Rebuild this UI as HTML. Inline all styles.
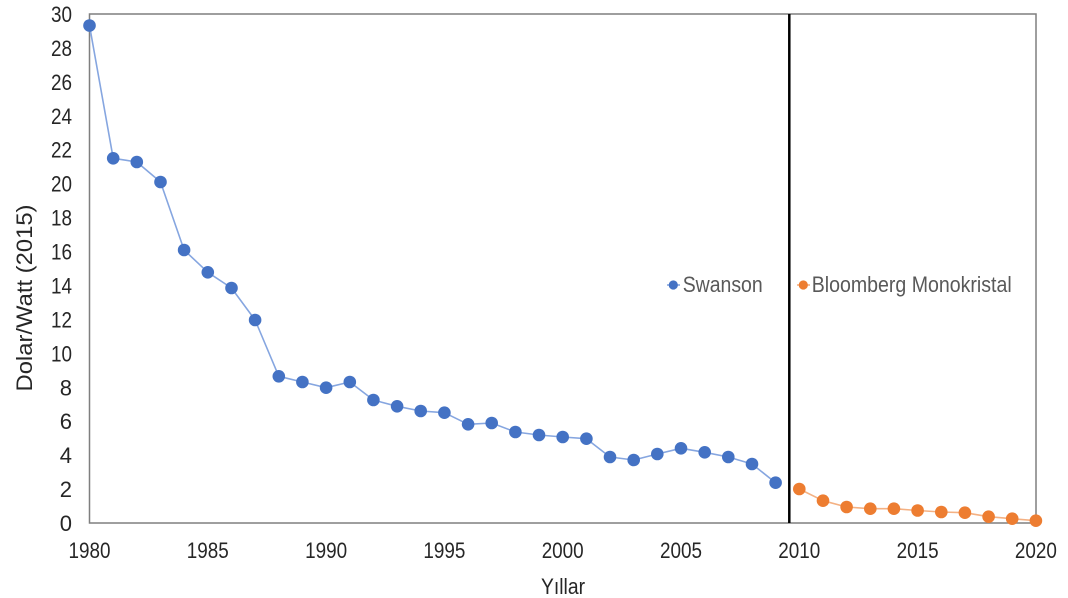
<!DOCTYPE html>
<html>
<head>
<meta charset="utf-8">
<style>
  html, body { margin: 0; padding: 0; background: #ffffff; }
  svg { display: block; }
  text { font-family: "Liberation Sans", Arial, sans-serif; }
</style>
</head>
<body>
<svg width="1068" height="598" viewBox="0 0 1068 598" xmlns="http://www.w3.org/2000/svg">
  <rect x="0" y="0" width="1068" height="598" fill="#ffffff"/>

  <!-- plot frame -->
  <rect x="89.5" y="14" width="946.5" height="509" fill="none" stroke="#7f7f7f" stroke-width="1.5"/>

  <!-- separator line -->
  <line x1="789.3" y1="14" x2="789.3" y2="523" stroke="#000000" stroke-width="2.5"/>

  <!-- Y tick labels -->
  <g font-size="22" fill="#262626" text-anchor="end">
    <text x="72" y="22" textLength="21" lengthAdjust="spacingAndGlyphs">30</text>
    <text x="72" y="55.9" textLength="21" lengthAdjust="spacingAndGlyphs">28</text>
    <text x="72" y="89.9" textLength="21" lengthAdjust="spacingAndGlyphs">26</text>
    <text x="72" y="123.8" textLength="21" lengthAdjust="spacingAndGlyphs">24</text>
    <text x="72" y="157.7" textLength="21" lengthAdjust="spacingAndGlyphs">22</text>
    <text x="72" y="191.7" textLength="21" lengthAdjust="spacingAndGlyphs">20</text>
    <text x="72" y="225.6" textLength="21" lengthAdjust="spacingAndGlyphs">18</text>
    <text x="72" y="259.5" textLength="21" lengthAdjust="spacingAndGlyphs">16</text>
    <text x="72" y="293.5" textLength="21" lengthAdjust="spacingAndGlyphs">14</text>
    <text x="72" y="327.4" textLength="21" lengthAdjust="spacingAndGlyphs">12</text>
    <text x="72" y="361.3" textLength="21" lengthAdjust="spacingAndGlyphs">10</text>
    <text x="72" y="395.3">8</text>
    <text x="72" y="429.2">6</text>
    <text x="72" y="463.1">4</text>
    <text x="72" y="497.1">2</text>
    <text x="72" y="531">0</text>
  </g>

  <!-- X tick labels -->
  <g font-size="22" fill="#262626" text-anchor="middle">
    <text x="89.5" y="558" textLength="42" lengthAdjust="spacingAndGlyphs">1980</text>
    <text x="207.8" y="558" textLength="42" lengthAdjust="spacingAndGlyphs">1985</text>
    <text x="326.1" y="558" textLength="42" lengthAdjust="spacingAndGlyphs">1990</text>
    <text x="444.4" y="558" textLength="42" lengthAdjust="spacingAndGlyphs">1995</text>
    <text x="562.7" y="558" textLength="42" lengthAdjust="spacingAndGlyphs">2000</text>
    <text x="681.0" y="558" textLength="42" lengthAdjust="spacingAndGlyphs">2005</text>
    <text x="799.3" y="558" textLength="42" lengthAdjust="spacingAndGlyphs">2010</text>
    <text x="917.6" y="558" textLength="42" lengthAdjust="spacingAndGlyphs">2015</text>
    <text x="1035.9" y="558" textLength="42" lengthAdjust="spacingAndGlyphs">2020</text>
  </g>

  <!-- Axis titles -->
  <text x="563" y="594" font-size="22" fill="#262626" text-anchor="middle" textLength="44" lengthAdjust="spacingAndGlyphs">Yıllar</text>
  <text transform="translate(32,298) rotate(-90)" x="0" y="0" font-size="22" fill="#262626" text-anchor="middle" textLength="187" lengthAdjust="spacingAndGlyphs">Dolar/Watt (2015)</text>

  <!-- Swanson series -->
  <polyline fill="none" stroke="#86A6E0" stroke-width="1.6" stroke-linejoin="round"
    points="89.5,25.5 113.2,158.3 136.8,162 160.5,182 184.1,250 207.8,272.3 231.5,288 255.1,320 278.8,376.3 302.4,382 326.1,387.7 349.8,382 373.4,400 397.1,406.3 420.7,411 444.4,412.7 468.1,424.3 491.7,423 515.4,432 539.0,435 562.7,437 586.4,438.7 610.0,457 633.7,460 657.3,454 681.0,448.3 704.7,452.3 728.3,457 752.0,464 775.6,482.7"/>
  <g fill="#4472C4">
    <circle cx="89.5" cy="25.5" r="6.3"/>
    <circle cx="113.2" cy="158.3" r="6.3"/>
    <circle cx="136.8" cy="162" r="6.3"/>
    <circle cx="160.5" cy="182" r="6.3"/>
    <circle cx="184.1" cy="250" r="6.3"/>
    <circle cx="207.8" cy="272.3" r="6.3"/>
    <circle cx="231.5" cy="288" r="6.3"/>
    <circle cx="255.1" cy="320" r="6.3"/>
    <circle cx="278.8" cy="376.3" r="6.3"/>
    <circle cx="302.4" cy="382" r="6.3"/>
    <circle cx="326.1" cy="387.7" r="6.3"/>
    <circle cx="349.8" cy="382" r="6.3"/>
    <circle cx="373.4" cy="400" r="6.3"/>
    <circle cx="397.1" cy="406.3" r="6.3"/>
    <circle cx="420.7" cy="411" r="6.3"/>
    <circle cx="444.4" cy="412.7" r="6.3"/>
    <circle cx="468.1" cy="424.3" r="6.3"/>
    <circle cx="491.7" cy="423" r="6.3"/>
    <circle cx="515.4" cy="432" r="6.3"/>
    <circle cx="539.0" cy="435" r="6.3"/>
    <circle cx="562.7" cy="437" r="6.3"/>
    <circle cx="586.4" cy="438.7" r="6.3"/>
    <circle cx="610.0" cy="457" r="6.3"/>
    <circle cx="633.7" cy="460" r="6.3"/>
    <circle cx="657.3" cy="454" r="6.3"/>
    <circle cx="681.0" cy="448.3" r="6.3"/>
    <circle cx="704.7" cy="452.3" r="6.3"/>
    <circle cx="728.3" cy="457" r="6.3"/>
    <circle cx="752.0" cy="464" r="6.3"/>
    <circle cx="775.6" cy="482.7" r="6.3"/>
  </g>

  <!-- Bloomberg series -->
  <polyline fill="none" stroke="#F4B183" stroke-width="1.6" stroke-linejoin="round"
    points="799.3,489 823.0,500.7 846.6,507 870.3,508.7 893.9,508.7 917.6,510.5 941.3,512 964.9,512.7 988.6,516.7 1012.2,518.7 1035.9,520.7"/>
  <g fill="#ED7D31">
    <circle cx="799.3" cy="489" r="6.3"/>
    <circle cx="823.0" cy="500.7" r="6.3"/>
    <circle cx="846.6" cy="507" r="6.3"/>
    <circle cx="870.3" cy="508.7" r="6.3"/>
    <circle cx="893.9" cy="508.7" r="6.3"/>
    <circle cx="917.6" cy="510.5" r="6.3"/>
    <circle cx="941.3" cy="512" r="6.3"/>
    <circle cx="964.9" cy="512.7" r="6.3"/>
    <circle cx="988.6" cy="516.7" r="6.3"/>
    <circle cx="1012.2" cy="518.7" r="6.3"/>
    <circle cx="1035.9" cy="520.7" r="6.3"/>
  </g>

  <!-- Legend -->
  <line x1="667" y1="285" x2="680" y2="285" stroke="#86A6E0" stroke-width="1.6"/>
  <circle cx="673.3" cy="285" r="4.6" fill="#4472C4"/>
  <text x="682.7" y="292" font-size="22" fill="#595959" textLength="80" lengthAdjust="spacingAndGlyphs">Swanson</text>

  <line x1="797" y1="285" x2="810" y2="285" stroke="#F4B183" stroke-width="1.6"/>
  <circle cx="803.3" cy="285" r="4.6" fill="#ED7D31"/>
  <text x="811.7" y="292" font-size="22" fill="#595959" textLength="200" lengthAdjust="spacingAndGlyphs">Bloomberg Monokristal</text>
</svg>
</body>
</html>
